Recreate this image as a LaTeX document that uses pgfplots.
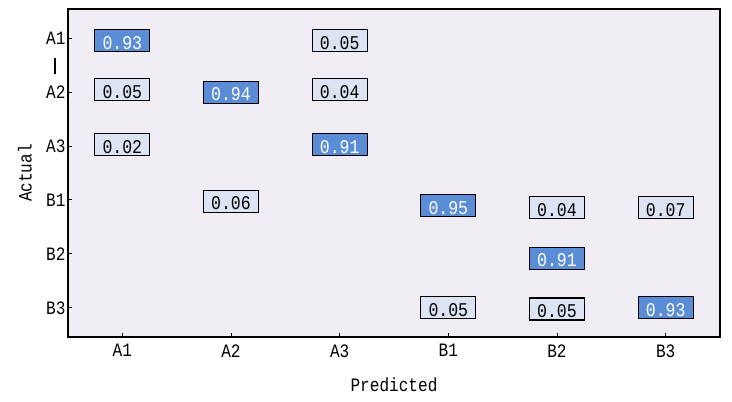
\documentclass[border=0pt]{standalone}
\usepackage{pgfplots}
\pgfplotsset{compat=1.18}
\usepackage{pgfplotstable}
\usepackage{fontspec}
\setmainfont{Liberation Mono}[FakeStretch=0.85]
\definecolor{bgcol}{HTML}{F0EEF4}
\definecolor{hi}{HTML}{5B8DD6}
\definecolor{lo}{HTML}{DCE3F2}
\pgfplotstableread{
x y v
0 0.05 0.93
1 1.00 0.94
2 1.97 0.91
3 3.11 0.95
4 4.08 0.91
5 5.00 0.93
}\hidata
\pgfplotstableread{
x y v
2 0.05 0.05
0 0.95 0.05
2 0.96 0.04
0 1.97 0.02
1 3.02 0.06
4 3.14 0.04
5 3.14 0.07
3 5.00 0.05
4 5.02 0.05
}\lodata
\begin{document}
\begin{tikzpicture}
\useasboundingbox (-68bp,-65bp) rectangle (664bp,337bp);
\begin{axis}[
  scale only axis,
  width=652bp, height=328bp,
  xmin=-0.5, xmax=5.5,
  ymin=-0.54, ymax=5.54,
  y dir=reverse,
  xtick={0,1,2,3,4,5},
  ytick={0,1,2,3,4,5},
  xticklabels={A1,A2,A3,B1,B2,B3},
  yticklabels={A1,A2,A3,B1,B2,B3},
  tick align=inside,
  major tick length=4bp,
  xtick pos=bottom, ytick pos=left,
  axis line style={line width=1.3bp},
  tick style={line width=1bp, black},
  axis background/.style={fill=bgcol},
  font=\fontsize{19}{21}\selectfont,
  tick label style={font=\fontsize{19}{21}\selectfont},
  xticklabel style={yshift=-4bp},
  yticklabel style={xshift=1bp},
  /pgf/number format/assume math mode=true,
  xlabel={Predicted},
  ylabel={Actual},
  xlabel style={at={(axis description cs:0.5,0)}, anchor=center, yshift=-48bp, font=\fontsize{19}{21}\selectfont},
  ylabel style={at={(axis description cs:-0.066,0.5)}, anchor=center, font=\fontsize{19}{21}\selectfont},
  clip=false,
]
\addplot[draw=none, mark=none, nodes near coords, point meta=explicit symbolic,
  every node near coord/.style={anchor=center, draw=black, line width=1.1bp, fill=hi, text=white,
    minimum width=55bp, minimum height=22bp, text height=17.5bp, text depth=0pt, inner sep=2pt, font=\fontsize{19.5}{21}\selectfont}]
  table[x=x, y=y, meta=v] {\hidata};
\addplot[draw=none, mark=none, nodes near coords, point meta=explicit symbolic,
  every node near coord/.style={anchor=center, draw=black, line width=1.1bp, fill=lo, text=black,
    minimum width=55bp, minimum height=22bp, text height=17.5bp, text depth=0pt, inner sep=2pt, font=\fontsize{19.5}{21}\selectfont}]
  table[x=x, y=y, meta=v] {\lodata};
\draw[line width=1.3bp] ([xshift=-13bp]axis cs:-0.5,0.37) -- ([xshift=-13bp]axis cs:-0.5,0.67);
\end{axis}
\end{tikzpicture}
\end{document}
